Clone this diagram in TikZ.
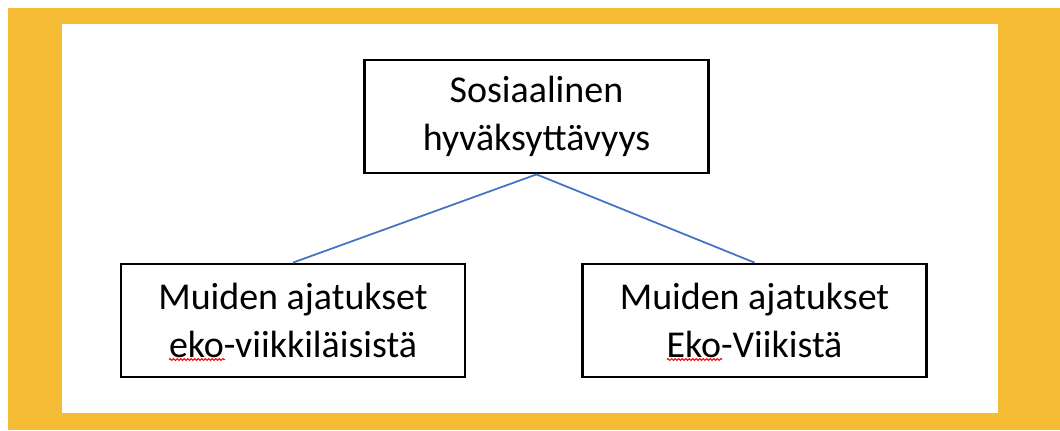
\documentclass[tikz,border=0pt]{standalone}
\usepackage{fontspec}
\setmainfont{Carlito}
\usepackage{tikz}
\usetikzlibrary{decorations.pathmorphing}
\definecolor{frameorange}{HTML}{F6BC36}
\definecolor{lineblue}{HTML}{4472C4}

\begin{document}
\begin{tikzpicture}[semithick]
  \tikzstyle{box}=[draw=black,line width=0.8pt,fill=white,minimum width=3.44cm,
                   minimum height=1.13cm,align=center,
                   font=\fontsize{10.8}{13.7}\selectfont]
  \tikzstyle{link}=[draw=lineblue,line width=0.5pt]
  \tikzstyle{typo}=[draw=red,line width=0.3pt,
                    decorate,decoration={snake,amplitude=0.25pt,segment length=1pt}]

  \useasboundingbox (0,0) rectangle (10.6,4.3);
  \fill[frameorange] (0.08,0) rectangle (10.6,4.22);
  \fill[white] (0.62,0.17) rectangle (9.98,4.06);

  \node[box] (S) at (5.365,3.135) {Sosiaalinen\\hyväksyttävyys};
  \node[box] (L) at (2.93,1.095)  {Muiden ajatukset\\eko-viikkiläisistä};
  \node[box] (R) at (7.545,1.095) {Muiden ajatukset\\Eko-Viikistä};

  \path (S.south) edge [link] (L.north)
        (S.south) edge [link] (R.north);

  \draw[typo] (1.69,0.705) -- (2.25,0.705);
  \draw[typo] (6.67,0.705) -- (7.22,0.705);
\end{tikzpicture}
\end{document}
